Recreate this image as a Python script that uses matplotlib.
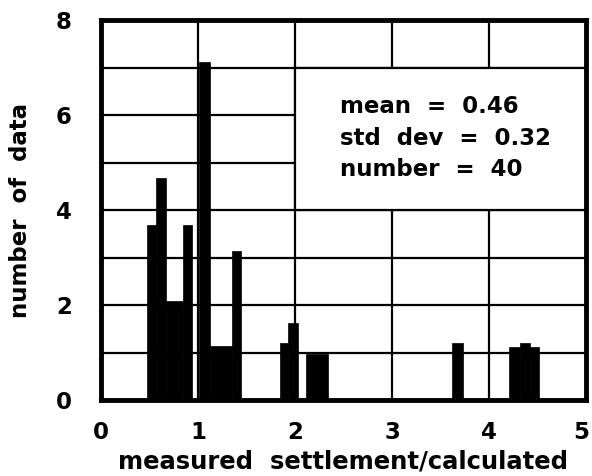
import matplotlib
matplotlib.use("Agg")
import matplotlib.pyplot as plt
import matplotlib.transforms as mtransforms
from matplotlib.patches import Rectangle

# ---- data ----
bar_left = [0.47, 0.57, 0.67, 0.85, 1.01, 1.12, 1.35, 1.85, 1.93, 2.11, 3.62, 4.21, 4.32, 4.42]
bar_right = [0.57, 0.67, 0.85, 0.94, 1.12, 1.35, 1.44, 1.93, 2.03, 2.34, 3.73, 4.32, 4.42, 4.52]
bar_height = [3.68, 4.68, 2.08, 3.69, 7.12, 1.13, 3.13, 1.19, 1.63, 0.97, 1.19, 1.12, 1.19, 1.12]

x_ticks = [0, 1, 2, 3, 4, 5]
y_ticks = [0, 1, 2, 3, 4, 5, 6, 7, 8]
y_tick_labels = ["0", "", "2", "", "4", "", "6", "", "8"]

stats_lines = ["mean  =  0.46", "std  dev  =  0.32", "number  =  40"]
x_label = "measured  settlement/calculated"
y_label = "number  of  data"

plt.rcParams['font.family'] = ['DejaVu Sans']
plt.rcParams['font.weight'] = 'bold'
FS = 16.5

W, H = 592, 476
fig = plt.figure(figsize=(W / 100, H / 100), dpi=100)
ax = fig.add_axes([101 / W, (H - 400) / H, (586 - 101) / W, (400 - 20) / H])

widths = [r - l for l, r in zip(bar_left, bar_right)]
ax.bar(bar_left, bar_height, width=widths, align='edge', color='black',
       edgecolor='black', linewidth=0.5, zorder=2)

ax.set_xlim(0, 5)
ax.set_ylim(0, 8)
ax.set_xticks(x_ticks)
ax.set_xticklabels([str(t) for t in x_ticks])
ax.set_yticks(y_ticks)
ax.set_yticklabels(y_tick_labels)
ax.tick_params(axis='both', length=0, labelsize=FS)
ax.tick_params(axis='x', pad=15)
ax.tick_params(axis='y', pad=21)
for lab in ax.get_xticklabels() + ax.get_yticklabels():
    lab.set_fontweight('bold')

# nudge the last x tick label inward so it is not clipped by the figure edge
last = ax.get_xticklabels()[-1]
last.set_transform(last.get_transform() +
                   mtransforms.ScaledTranslation(-5 / 100, 0, fig.dpi_scale_trans))

ax.grid(True, color='black', linewidth=1.6, zorder=1)
ax.set_axisbelow(True)

for sp in ax.spines.values():
    sp.set_linewidth(3.5)
    sp.set_color('black')
    sp.set_zorder(5)

# statistics box
ax.add_patch(Rectangle((2, 4), 3, 3, facecolor='white', edgecolor='black',
                       linewidth=1.6, zorder=3))
ys = [6.04, 5.37, 4.72]
for s, y in zip(stats_lines, ys):
    ax.text(2.46, y, s, fontsize=FS, fontweight='bold', va='baseline',
            ha='left', zorder=4)

ax.set_xlabel(x_label, fontsize=17.5, fontweight='bold', labelpad=4)
ax.set_ylabel(y_label, fontsize=FS, fontweight='bold', labelpad=17)

fig.savefig("out.png", dpi=100)
